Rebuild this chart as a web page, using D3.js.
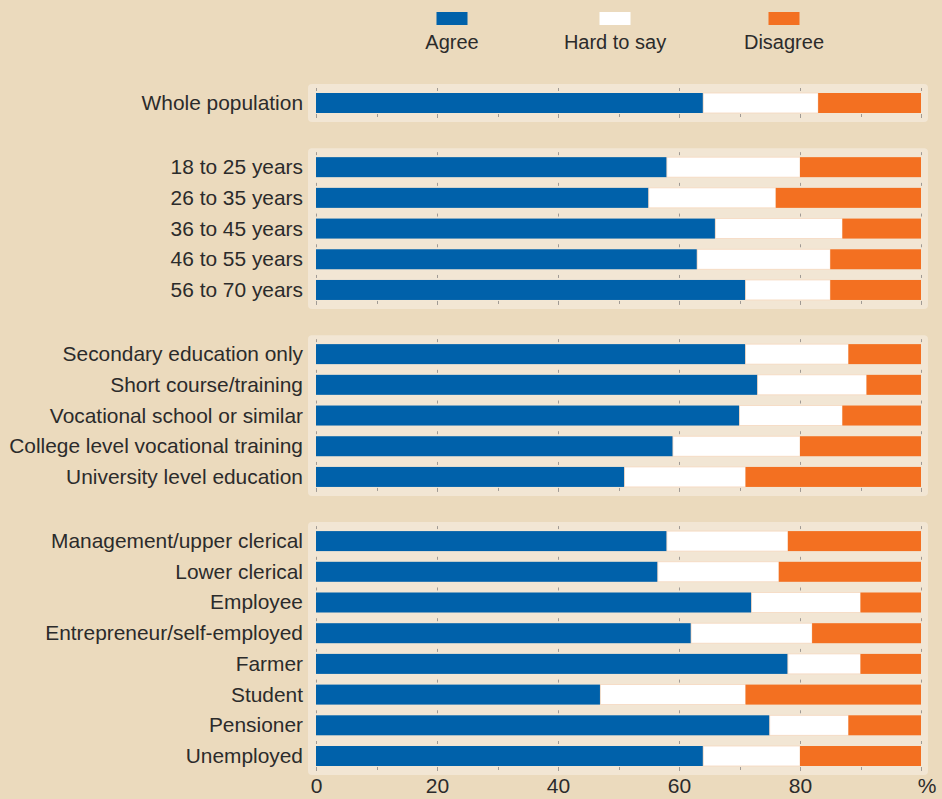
<!DOCTYPE html>
<html>
<head>
<meta charset="utf-8">
<script src="https://cdn.jsdelivr.net/npm/d3@7"></script>
<style>
  html, body { margin: 0; padding: 0; background: #ebdabd; }
  svg { display: block; font-family: "Liberation Sans", Arial, sans-serif; }
</style>
</head>
<body>
<div id="plot-container"></div>
<script>
// row labels, top to bottom
const categories = [
    "Whole population",
    "18 to 25 years", "26 to 35 years", "36 to 45 years", "46 to 55 years", "56 to 70 years",
    "Secondary education only", "Short course/training", "Vocational school or similar",
    "College level vocational training", "University level education",
    "Management/upper clerical", "Lower clerical", "Employee", "Entrepreneur/self-employed",
    "Farmer", "Student", "Pensioner", "Unemployed"
];
// which panel each row sits in
const categoryGroup = [0, 1, 1, 1, 1, 1, 2, 2, 2, 2, 2, 3, 3, 3, 3, 3, 3, 3, 3];

// percentages
const agree     = [64, 58, 55, 66, 63, 71, 71, 73, 70, 59, 51, 58, 56.5, 72, 62, 78, 47, 75, 64];
const hardToSay = [19, 22, 21, 21, 22, 14, 17, 18, 17, 21, 20, 20, 20,   18, 20, 12, 24, 13, 16];
const disagree  = [17, 20, 24, 13, 15, 15, 12,  9, 13, 20, 29, 22, 23.5, 10, 18, 10, 29, 12, 20];

const seriesNames = ["Agree", "Hard to say", "Disagree"];
const seriesColors = ["#0061aa", "#ffffff", "#f37021"];
const xTicks = [0, 20, 40, 60, 80];
const minorTicks = [0, 10, 20, 30, 40, 50, 60, 70, 80, 90, 100];
const majorTicks = [0, 20, 40, 60, 80, 100];

const width = 942, height = 799;
const barH = 20;
const groupGap = 1.09; // extra row slots between panels

const svg = d3.select("#plot-container")
  .append("svg")
    .attr("width", width)
    .attr("height", height);

const x = d3.scaleLinear().domain([0, 100]).range([316, 921]);

const slots = categories.map((c, i) => i + categoryGroup[i] * groupGap);
const y = d3.scaleLinear()
    .domain([0, d3.max(slots)])
    .range([103, 756]);

const rows = categories.map((c, i) => ({
    label: c,
    group: categoryGroup[i],
    cy: y(slots[i]),
    values: [agree[i], hardToSay[i], disagree[i]]
}));

// panels behind each group
const groups = d3.groups(rows, d => d.group);
svg.append("g").selectAll("rect")
    .data(groups)
    .enter()
    .append("rect")
    .attr("x", 308)
    .attr("width", 620)
    .attr("y", d => d[1][0].cy - barH / 2 - 9)
    .attr("height", d => d[1][d[1].length - 1].cy - d[1][0].cy + barH + 18)
    .attr("rx", 4)
    .attr("fill", "#f2e6d4");

// small ticks above each bar
const tickG = svg.append("g").attr("stroke", "#a09a94").attr("stroke-width", 1);
rows.forEach(r => {
    tickG.selectAll(null)
        .data(majorTicks)
        .enter()
        .append("line")
        .attr("x1", d => Math.round(x(d)) + 0.5)
        .attr("x2", d => Math.round(x(d)) + 0.5)
        .attr("y1", r.cy - barH / 2 - 5)
        .attr("y2", r.cy - barH / 2 - 2);
});
// ticks under the last bar of each panel
groups.forEach(([g, rs]) => {
    const last = rs[rs.length - 1];
    tickG.selectAll(null)
        .data(minorTicks)
        .enter()
        .append("line")
        .attr("x1", d => Math.round(x(d)) + 0.5)
        .attr("x2", d => Math.round(x(d)) + 0.5)
        .attr("y1", last.cy + barH / 2 + 1)
        .attr("y2", d => last.cy + barH / 2 + (d % 20 === 0 ? 5 : 4));
});

// stacked bars
const barG = svg.append("g");
rows.forEach(r => {
    let acc = 0;
    const segs = r.values.map((v, k) => {
        const s = {x0: acc, x1: acc + v, k: k};
        acc += v;
        return s;
    });
    barG.selectAll(null)
        .data(segs)
        .enter()
        .append("rect")
        .attr("x", d => x(d.x0))
        .attr("y", r.cy - barH / 2)
        .attr("width", d => x(d.x1) - x(d.x0))
        .attr("height", barH)
        .attr("fill", d => seriesColors[d.k])
        .attr("stroke", d => d.k === 1 ? "#f6d8bf" : "none")
        .attr("stroke-width", 0.8);
});

// row labels
svg.append("g").selectAll("text")
    .data(rows)
    .enter()
    .append("text")
    .attr("x", 303)
    .attr("y", d => d.cy + 7)
    .attr("text-anchor", "end")
    .attr("font-size", "20.9px")
    .attr("fill", "#2b2b2b")
    .text(d => d.label);

// bottom axis
const axis = svg.append("g")
    .attr("transform", "translate(0, 777)")
    .call(d3.axisBottom(x).tickValues(xTicks).tickSize(0).tickPadding(1));
axis.select(".domain").remove();
axis.selectAll("text")
    .attr("font-size", "21px")
    .attr("font-family", "Liberation Sans, Arial, sans-serif")
    .attr("fill", "#2b2b2b");

svg.append("text")
    .attr("x", 927)
    .attr("y", 793)
    .attr("text-anchor", "middle")
    .attr("font-size", "21px")
    .attr("fill", "#2b2b2b")
    .text("%");

// legend
const legendX = [452, 615, 784];
const legend = svg.append("g").selectAll("g")
    .data(seriesNames)
    .enter()
    .append("g")
    .attr("transform", (d, i) => `translate(${legendX[i]}, 0)`);
legend.append("rect")
    .attr("x", -15.5)
    .attr("y", 12)
    .attr("width", 31)
    .attr("height", 13)
    .attr("fill", (d, i) => seriesColors[i]);
legend.append("text")
    .attr("y", 49)
    .attr("text-anchor", "middle")
    .attr("font-size", "20px")
    .attr("fill", "#2b2b2b")
    .text(d => d);
</script>
</body>
</html>
